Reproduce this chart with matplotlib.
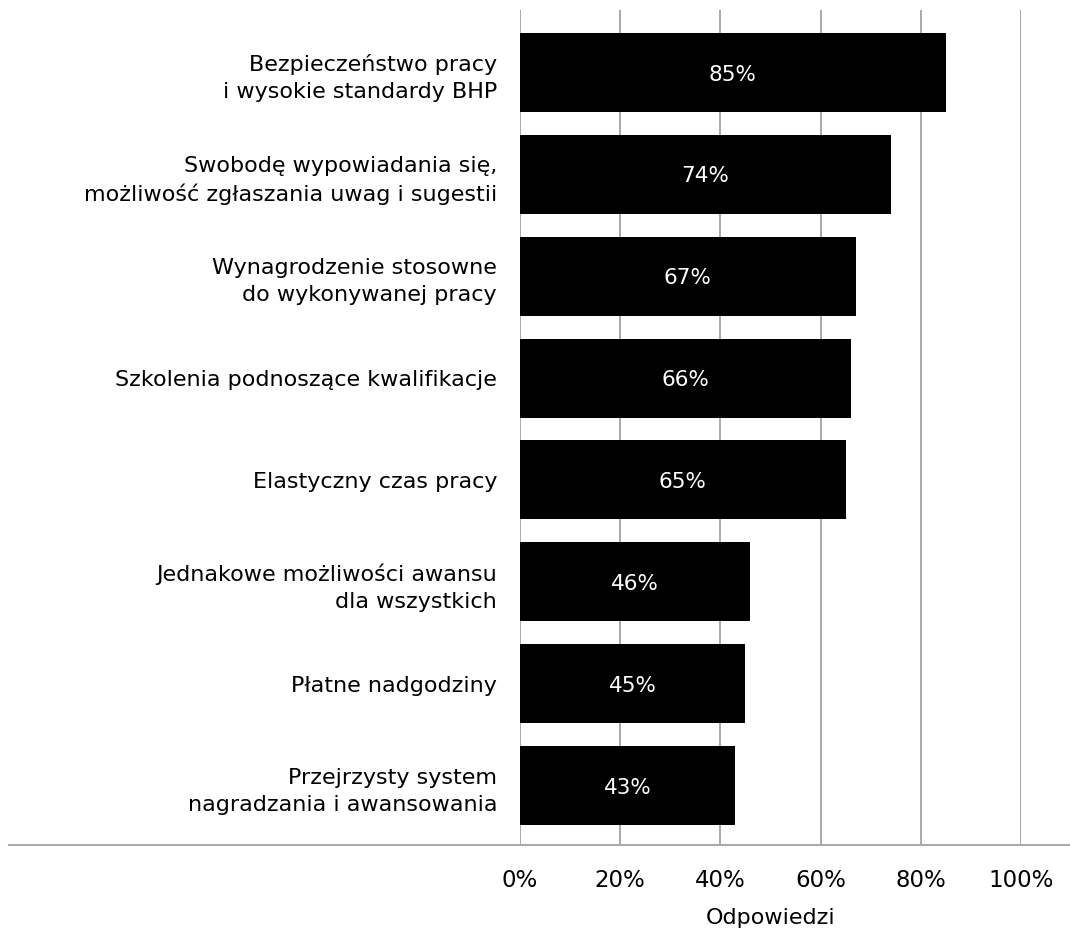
import matplotlib
matplotlib.use("Agg")
import matplotlib.pyplot as plt
from matplotlib.lines import Line2D

categories = [
    "Bezpieczeństwo pracy\ni wysokie standardy BHP",
    "Swobodę wypowiadania się,\nmożliwość zgłaszania uwag i sugestii",
    "Wynagrodzenie stosowne\ndo wykonywanej pracy",
    "Szkolenia podnoszące kwalifikacje",
    "Elastyczny czas pracy",
    "Jednakowe możliwości awansu\ndla wszystkich",
    "Płatne nadgodziny",
    "Przejrzysty system\nnagradzania i awansowania",
]
values = [85, 74, 67, 66, 65, 46, 45, 43]
xticks = [0, 20, 40, 60, 80, 100]
xtick_labels = ["0%", "20%", "40%", "60%", "80%", "100%"]
xlabel = "Odpowiedzi"

plt.rcParams['font.family'] = ['DejaVu Sans']

W, H = 1070, 939
fig = plt.figure(figsize=(W / 100, H / 100), dpi=100)
left, right, top, bottom = 520, 1021, 10, 845
ax = fig.add_axes([left / W, 1 - bottom / H, (right - left) / W, (bottom - top) / H])

ypos = list(range(len(categories)))
ax.barh(ypos, values, height=0.776, color="black", zorder=3)
for y, v in zip(ypos, values):
    ax.text(v / 2, y + 0.02, f"{v}%", color="white", ha="center", va="center", fontsize=15.5, zorder=4)

ax.set_xlim(0, 100)
ax.set_ylim(7.584, -0.614)
ax.set_yticks(ypos)
ax.set_yticklabels(categories, fontsize=16, linespacing=1.45, ha="right")
ax.set_xticks(xticks)
ax.set_xticklabels(xtick_labels, fontsize=16.5)
ax.tick_params(axis="both", length=0)
ax.tick_params(axis="y", pad=16.5)
ax.tick_params(axis="x", pad=17.5)
ax.set_xlabel(xlabel, fontsize=16, labelpad=11.5)
ax.grid(axis="x", color="#999999", linewidth=1.2, zorder=0)
for s in ax.spines.values():
    s.set_visible(False)

fig.add_artist(Line2D([9 / W, 1.0], [1 - bottom / H, 1 - bottom / H], color="#aaaaaa", linewidth=1.5))

fig.savefig("out.png", dpi=100, facecolor="white")
